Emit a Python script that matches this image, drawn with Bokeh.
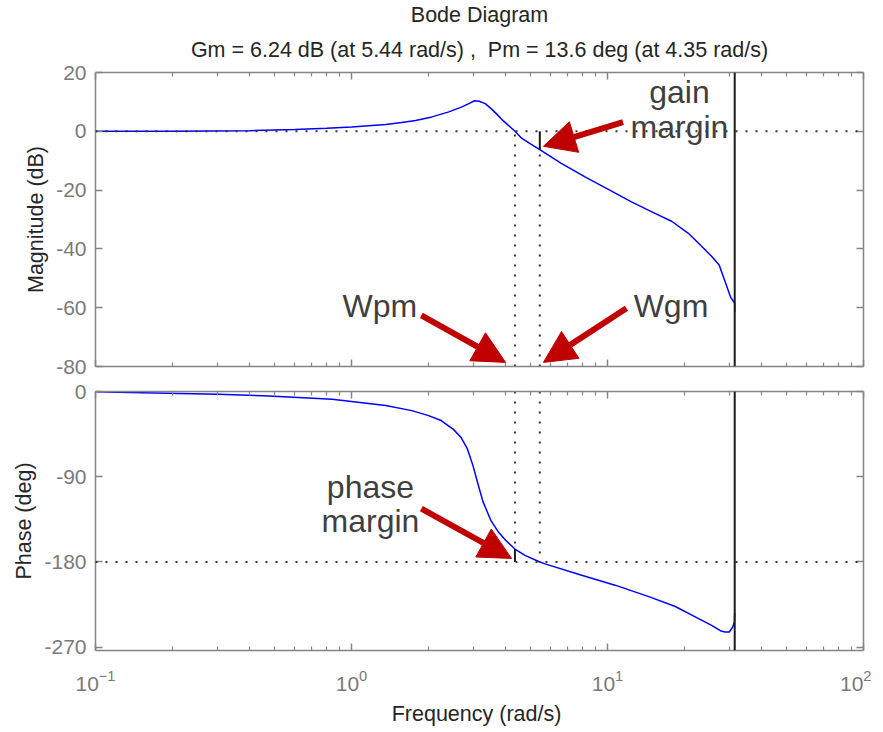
from bokeh.plotting import figure
from bokeh.layouts import column
from bokeh.models import (FixedTicker, LogAxis, LinearAxis, Title, Span, Arrow,
                          NormalHead, Label, Range1d, CustomJSTickFormatter)
from bokeh.embed import file_html
from bokeh.resources import INLINE

# ---------------- data ----------------
freq_mag = [0.1, 0.2, 0.4, 0.6, 0.8, 1.0, 1.36, 1.57, 1.78, 2.06, 2.4, 2.7, 2.9,
            3.02, 3.15, 3.33, 3.5, 3.67, 3.9, 4.35, 4.6, 5.0, 5.44, 6.6, 8.2,
            10.2, 12.4, 15.4, 17.8, 20.7, 23.0, 25.5, 27.3, 28.9, 30.3, 31.4, 31.4]
mag_db = [0.0, 0.05, 0.2, 0.6, 1.0, 1.5, 2.3, 3.0, 3.7, 4.9, 6.6, 8.3, 9.6,
          10.4, 10.2, 9.4, 7.8, 6.1, 3.7, 0.0, -2.2, -4.3, -6.24, -10.9, -15.6,
          -20.0, -24.0, -28.0, -30.6, -34.7, -38.6, -42.5, -45.5, -51.5, -56.5, -58.5, -61.5]

freq_ph = [0.1, 0.17, 0.3, 0.45, 0.52, 0.62, 0.84, 1.0, 1.36, 1.72, 2.0, 2.24, 2.5,
           2.67, 2.83, 2.98, 3.1, 3.26, 3.5, 3.74, 4.0, 4.35, 4.76, 5.44, 5.7, 7.93,
           10.7, 14.5, 18.4, 22.6, 25.5, 27.8, 28.8, 29.9, 30.8, 31.3, 31.4]
phase_deg = [-0.3, -1.5, -3.0, -4.5, -5.3, -6.3, -8.3, -10.5, -14.9, -20.2, -25.5, -30.7, -40.0,
             -48.0, -60.0, -78.0, -95.0, -116.0, -136.0, -148.0, -157.0, -166.4, -173.0, -180.0, -182.0, -194.0,
             -204.5, -216.6, -227.0, -239.5, -247.0, -253.0, -254.0, -254.0, -249.0, -244.0, -234.0]

gm_db = 6.24      # gain margin (dB)
w_gm = 5.44       # rad/s
pm_deg = 13.6     # phase margin (deg)
w_pm = 4.35       # rad/s
w_nyq = 31.4      # Nyquist frequency line (rad/s)

mag_ticks = [-80, -60, -40, -20, 0, 20]
phase_ticks = [-270, -180, -90, 0]
freq_ticks = [0.1, 1, 10, 100]

title_1 = "Bode Diagram"
title_2 = "Gm = 6.24 dB (at 5.44 rad/s) ,\u00a0 Pm = 13.6 deg (at 4.35 rad/s)"

# ---------------- styling ----------------
FONT = "Liberation Sans"
FS = "21px"
AXIS_GRAY = "#858585"
TICK_TXT = "#7a7a7a"
DARK = "#262626"
RED = "#c00000"
ANN_TXT = "#3f3f3f"
DOT = "2 8"

minor_x = [d * m for d in [0.1, 1, 10] for m in range(2, 10)]


def style_axis(ax, labels, minor):
    ax.axis_line_color = AXIS_GRAY
    ax.axis_line_width = 1.5
    ax.major_tick_line_color = AXIS_GRAY
    ax.major_tick_line_width = 1.5
    ax.major_tick_in = 7
    ax.major_tick_out = 0
    ax.minor_tick_in = 4
    ax.minor_tick_out = 0
    ax.minor_tick_line_color = AXIS_GRAY if minor else None
    ax.minor_tick_line_width = 1.2
    ax.major_label_text_font = FONT
    ax.major_label_text_color = TICK_TXT
    ax.major_label_text_font_size = FS
    ax.major_label_standoff = 9
    if not labels:
        ax.formatter = CustomJSTickFormatter(code="return '';")
        ax.major_label_standoff = 0
    ax.axis_label_text_font = FONT
    ax.axis_label_text_font_style = "normal"
    ax.axis_label_text_color = DARK
    ax.axis_label_text_font_size = "21.5px"
    ax.axis_label_standoff = 5


def make_fig(frame_h, y_rng, yticks, top_b, bottom_b, show_x, ylabel):
    p = figure(frame_width=768, frame_height=frame_h, x_axis_type="log",
               x_range=Range1d(0.1, 100), y_range=Range1d(*y_rng),
               output_backend="svg", toolbar_location=None, title=None,
               min_border_left=95, min_border_right=8,
               min_border_top=top_b, min_border_bottom=bottom_b)
    p.outline_line_color = None
    p.xgrid.visible = False
    p.ygrid.visible = False
    bottom_ax = p.xaxis[0]
    left_ax = p.yaxis[0]
    bottom_ax.ticker = FixedTicker(ticks=freq_ticks, minor_ticks=minor_x)
    style_axis(bottom_ax, show_x, True)
    left_ax.ticker = FixedTicker(ticks=yticks)
    style_axis(left_ax, True, False)
    left_ax.formatter = CustomJSTickFormatter(code="return tick.toString();")
    left_ax.axis_label = ylabel
    top_ax = LogAxis(ticker=FixedTicker(ticks=freq_ticks, minor_ticks=minor_x))
    style_axis(top_ax, False, True)
    p.add_layout(top_ax, "above")
    right_ax = LinearAxis(ticker=FixedTicker(ticks=yticks))
    style_axis(right_ax, False, False)
    p.add_layout(right_ax, "right")
    p.add_layout(Span(location=w_nyq, dimension="height", line_color="#1a1a1a", line_width=2))
    return p, bottom_ax


def add_text(p, x, y, txt):
    p.add_layout(Label(x=x, y=y, text=txt, text_font=FONT, text_font_size="32px",
                       text_color=ANN_TXT, text_align="center", text_baseline="alphabetic"))


def add_arrow(p, xs, ys, xe, ye):
    p.add_layout(Arrow(end=NormalHead(size=32, fill_color=RED, line_color=RED),
                       x_start=xs, y_start=ys, x_end=xe, y_end=ye,
                       line_color=RED, line_width=6))


# ---------------- magnitude ----------------
p1, _ = make_fig(294, (-80, 20), mag_ticks, 72, 13, False, "Magnitude (dB)")
p1.add_layout(Title(text=title_2, align="center", text_font=FONT, text_font_size="21.5px",
                    text_font_style="normal", text_color=DARK, standoff=22), "above")
p1.add_layout(Title(text=title_1, align="center", text_font=FONT, text_font_size="21.5px",
                    text_font_style="normal", text_color=DARK, standoff=-4), "above")

p1.add_layout(Span(location=0, dimension="width", line_color="#333333", line_width=2, line_dash=DOT))
p1.segment(x0=[w_pm, w_gm], y0=[-80, -80], x1=[w_pm, w_gm], y1=[0, -gm_db],
           line_color="#333333", line_width=2, line_dash=DOT)
p1.line(freq_mag, mag_db, line_color="#0000ff", line_width=1.5)
p1.segment(x0=[w_gm], y0=[0], x1=[w_gm], y1=[-gm_db], line_color="#1a1a1a", line_width=2)

add_text(p1, 19.1, 13.3, "gain")
add_text(p1, 19.1, 1.5, "margin")
add_text(p1, 1.29, -59.3, "Wpm")
add_text(p1, 17.7, -59.3, "Wgm")
add_arrow(p1, 11.5, 3.1, 5.62, -5.1)
add_arrow(p1, 1.875, -62.6, 4.0, -78.6)
add_arrow(p1, 11.86, -60.2, 5.62, -78.6)

# ---------------- phase ----------------
p2, xax2 = make_fig(259, (-273.5, 0), phase_ticks, 12, 4, True, "Phase (deg)")
xax2.axis_label = "Frequency  (rad/s)"
xax2.major_label_standoff = 19
xax2.axis_label_standoff = 8

p2.add_layout(Span(location=-180, dimension="width", line_color="#333333", line_width=2, line_dash=DOT))
p2.segment(x0=[w_pm, w_gm], y0=[0, 0], x1=[w_pm, w_gm], y1=[-180 + pm_deg, -180],
           line_color="#333333", line_width=2, line_dash=DOT)
p2.line(freq_ph, phase_deg, line_color="#0000ff", line_width=1.5)
p2.segment(x0=[w_pm], y0=[-180], x1=[w_pm], y1=[-180 + pm_deg], line_color="#1a1a1a", line_width=2)

add_text(p2, 1.186, -101, "phase")
add_text(p2, 1.186, -137, "margin")
add_arrow(p2, 1.875, -123.7, 4.22, -176.3)

layout = column(p1, p2, spacing=0)
open("out.html", "w").write(file_html(layout, INLINE))
